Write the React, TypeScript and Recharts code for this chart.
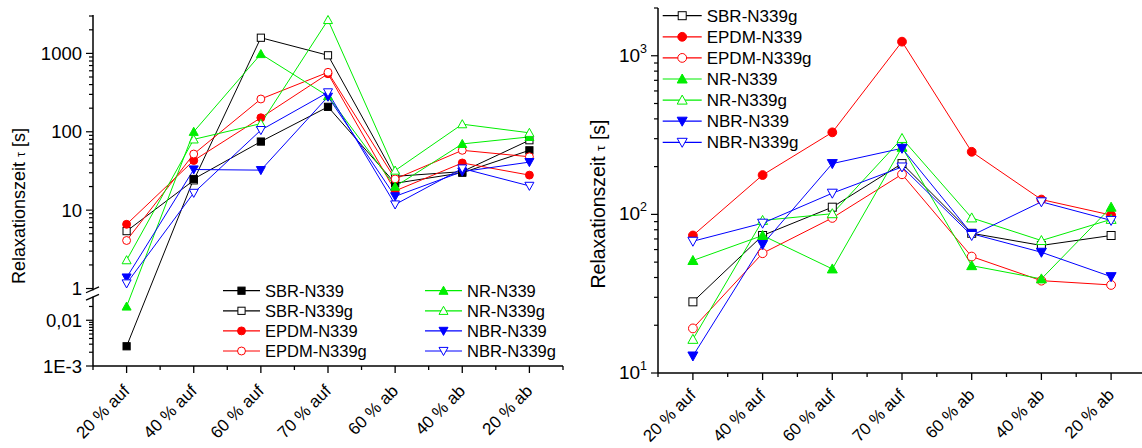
import React from 'react'
import { LineChart, Line, XAxis, YAxis } from 'recharts'

const cats = ['20 % auf', '40 % auf', '60 % auf', '70 % auf', '60 % ab', '40 % ab', '20 % ab']

// left panel, values in s (broken log axis)
const lSbr = [0.0027, 25, 75, 208, 22, 30, 58]
const lSbrG = [5.4, 24, 1585, 946, 27, 31, 78]
const lEpdm = [6.6, 43, 151, 550, 17.6, 40, 28]
const lEpdmG = [4.1, 52, 262, 574, 25, 58, 48]
const lNr = [0.02, 100, 982, 285, 20, 70, 86]
const lNrG = [2.3, 80, 127, 2670, 32, 125, 97]
const lNbr = [1.38, 33, 32.4, 280, 15, 31, 41]
const lNbrG = [1.16, 16.6, 105, 318, 11.8, 34, 20.4]

// right panel, values in s (log axis)
const rSbrG = [28.1, 73.6, 111, 209, 76, 63.7, 73.6]
const rEpdm = [73.6, 177, 329, 1227, 248, 124, 99]
const rEpdmG = [19.1, 56.9, 95, 179, 54.2, 38.2, 35.9]
const rNr = [51.2, 73.6, 45.3, 265, 47.5, 39.2, 111]
const rNrG = [16.3, 91.6, 101, 301, 95, 68.4, 93]
const rNbr = [12.8, 64.6, 209, 261, 75.5, 57.7, 40.5]
const rNbrG = [67.7, 88, 136, 199, 73.6, 120, 91.6]

const FONT = 'Liberation Sans, Arial, sans-serif'
const BLACK = '#000000', RED = '#ff0000', GREEN = '#00ee00', BLUE = '#0000ff'

type Shape = 'square' | 'circle' | 'up' | 'down'
interface Sty { name: string; color: string; shape: Shape; filled: boolean }

const ST: Record<string, Sty> = {
  sbr: { name: 'SBR-N339', color: BLACK, shape: 'square', filled: true },
  sbrG: { name: 'SBR-N339g', color: BLACK, shape: 'square', filled: false },
  epdm: { name: 'EPDM-N339', color: RED, shape: 'circle', filled: true },
  epdmG: { name: 'EPDM-N339g', color: RED, shape: 'circle', filled: false },
  nr: { name: 'NR-N339', color: GREEN, shape: 'up', filled: true },
  nrG: { name: 'NR-N339g', color: GREEN, shape: 'up', filled: false },
  nbr: { name: 'NBR-N339', color: BLUE, shape: 'down', filled: true },
  nbrG: { name: 'NBR-N339g', color: BLUE, shape: 'down', filled: false },
}

const leftSeries: [Sty, number[]][] = [
  [ST.sbrG, lSbrG], [ST.sbr, lSbr], [ST.epdm, lEpdm], [ST.epdmG, lEpdmG],
  [ST.nr, lNr], [ST.nrG, lNrG], [ST.nbr, lNbr], [ST.nbrG, lNbrG],
]
const rightSeries: [Sty, number[]][] = [
  [ST.sbrG, rSbrG], [ST.epdm, rEpdm], [ST.epdmG, rEpdmG],
  [ST.nr, rNr], [ST.nrG, rNrG], [ST.nbr, rNbr], [ST.nbrG, rNbrG],
]

// broken axis: upper part 1 unit per decade, lower part compressed
const LOW_OFF = -0.405
const LOW_K = 0.5836
const tf = (v: number) => (v >= 0.5 ? Math.log10(v) : LOW_OFF + (Math.log10(v) + 2) * LOW_K)

const leftData = cats.map((cat, i) => {
  const row: Record<string, any> = { cat }
  leftSeries.forEach(([s, vals]) => { row[s.name] = tf(vals[i]) })
  return row
})
const rightData = cats.map((cat, i) => {
  const row: Record<string, any> = { cat }
  rightSeries.forEach(([s, vals]) => { row[s.name] = vals[i] })
  return row
})

interface TickDef { label?: string; brk?: boolean }
const leftTicks = new Map<number, TickDef>()
;[[1, '1'], [10, '10'], [100, '100'], [1000, '1000'], [0.01, '0,01'], [0.001, '1E-3']].forEach(([v, l]) =>
  leftTicks.set(tf(v as number), { label: l as string }))
for (const d of [1, 10, 100, 1000]) for (let m = 2; m <= 9; m++) if (d * m <= 3000) leftTicks.set(tf(d * m), {})
for (let m = 2; m <= 9; m++) leftTicks.set(tf(0.001 * m), {})
leftTicks.set(tf(0.02), {})
const BRK = -0.064
leftTicks.set(BRK, { brk: true })

const rightTicks = new Map<number, TickDef>()
;[[10, '1'], [100, '2'], [1000, '3']].forEach(([v, l]) => rightTicks.set(v as number, { label: l as string }))
for (const d of [10, 100, 1000]) for (let m = 2; m <= 9; m++) if (d * m <= 2000) rightTicks.set(d * m, {})

function Marker({ cx, cy, s, r }: { cx: number; cy: number; s: Sty; r: number }) {
  if (cx == null || cy == null) return null
  const fill = s.filled ? s.color : '#fff'
  if (s.shape === 'square')
    return <rect x={cx - r} y={cy - r} width={2 * r} height={2 * r} fill={fill} stroke={s.color} strokeWidth={1} />
  if (s.shape === 'circle')
    return <circle cx={cx} cy={cy} r={r * 1.1} fill={fill} stroke={s.color} strokeWidth={1} />
  const h = r * 1.25
  const pts = s.shape === 'up'
    ? `${cx},${cy - h} ${cx - h},${cy + h * 0.8} ${cx + h},${cy + h * 0.8}`
    : `${cx},${cy + h} ${cx - h},${cy - h * 0.8} ${cx + h},${cy - h * 0.8}`
  return <polygon points={pts} fill={fill} stroke={s.color} strokeWidth={1} />
}

const XTick = (half: number, last: string, fs: number, dy: number) => (p: any) => {
  const { x, y, payload } = p
  return (
    <g>
      <line x1={x} x2={x} y1={y} y2={y + 7} stroke="#000" strokeWidth={1.3} />
      <line x1={x - half} x2={x - half} y1={y} y2={y + 4} stroke="#000" strokeWidth={1.3} />
      {payload.value === last && <line x1={x + half} x2={x + half} y1={y} y2={y + 4} stroke="#000" strokeWidth={1.3} />}
      <text x={x + 4} y={y + dy} textAnchor="end" transform={`rotate(-45 ${x + 4} ${y + dy})`}
        fontSize={fs} fontFamily={FONT} fill="#000">{payload.value}</text>
    </g>
  )
}

const LeftYTick = (p: any) => {
  const { x, y, payload } = p
  const d = leftTicks.get(payload.value)
  if (!d) return null
  if (d.brk) {
    return (
      <g>
        <rect x={x - 2} y={y - 3.2} width={4} height={6.4} fill="#fff" />
        <line x1={x - 7} y1={y - 0.8} x2={x + 6} y2={y - 6.6} stroke="#000" strokeWidth={1.3} />
        <line x1={x - 7} y1={y + 6.6} x2={x + 6} y2={y + 0.8} stroke="#000" strokeWidth={1.3} />
      </g>
    )
  }
  return (
    <g>
      <line x1={x} x2={x - (d.label ? 7 : 4)} y1={y} y2={y} stroke="#000" strokeWidth={1.2} />
      {d.label && <text x={x - 11} y={y} dy="0.36em" textAnchor="end" fontSize={18.5} fontFamily={FONT} fill="#000">{d.label}</text>}
    </g>
  )
}

const RightYTick = (p: any) => {
  const { x, y, payload } = p
  const d = rightTicks.get(payload.value)
  if (!d) return null
  return (
    <g>
      <line x1={x} x2={x - (d.label ? 7 : 4)} y1={y} y2={y} stroke="#000" strokeWidth={1.2} />
      {d.label && (
        <text x={x - 11} y={y + 6} textAnchor="end" fontSize={19} fontFamily={FONT} fill="#000">
          10<tspan fontSize={12.5} dy={-9}>{d.label}</tspan>
        </text>
      )}
    </g>
  )
}

function LegendItem({ x, y, s, r, len, fs }: { x: number; y: number; s: Sty; r: number; len: number; fs: number }) {
  return (
    <g>
      <line x1={x} x2={x + len} y1={y} y2={y} stroke={s.color} strokeWidth={1.2} />
      <Marker cx={x + len / 2} cy={y} s={s} r={r} />
      <text x={x + len + 5} y={y} dy="0.36em" fontSize={fs} fontFamily={FONT} fill="#000">{s.name}</text>
    </g>
  )
}

function YTitle({ x, y, size }: { x: number; y: number; size: number }) {
  return (
    <text x={x} y={y} transform={`rotate(-90 ${x} ${y})`} textAnchor="middle" fontSize={size} fontFamily={FONT} fill="#000">
      Relaxationszeit <tspan fontSize={size * 0.7}>τ</tspan> [s]
    </text>
  )
}

export default function App() {
  const leftLegend = [[ST.sbr, ST.sbrG, ST.epdm, ST.epdmG], [ST.nr, ST.nrG, ST.nbr, ST.nbrG]]
  const rightLegend = [ST.sbrG, ST.epdm, ST.epdmG, ST.nr, ST.nrG, ST.nbr, ST.nbrG]
  return (
    <div style={{ position: 'absolute', left: 0, top: 0, width: 1142, height: 448, overflow: 'hidden', background: '#fff' }}>
      <div style={{ position: 'absolute', left: 0, top: 0 }}>
        <LineChart width={580} height={448} data={leftData} margin={{ top: 15, right: 17, bottom: 0, left: 0 }}>
          <XAxis dataKey="cat" height={82} interval={0} padding={{ left: 33.6, right: 33.6 }}
            tickSize={0} tickMargin={0} tickLine={false} axisLine={{ stroke: '#000', strokeWidth: 1.5 }}
            tick={XTick(33.6, cats[cats.length - 1], 17, 26)} />
          <YAxis type="number" width={93} domain={[tf(0.001), 3.49]} allowDataOverflow
            ticks={[...leftTicks.keys()]} interval={0} tickSize={0} tickMargin={0} tickLine={false}
            axisLine={{ stroke: '#000', strokeWidth: 1.5 }} tick={LeftYTick} />
          {leftSeries.map(([s]) => (
            <Line key={s.name} dataKey={s.name} stroke={s.color} strokeWidth={1} isAnimationActive={false}
              activeDot={false} dot={(p: any) => <Marker key={`${s.name}-${p.index}`} cx={p.cx} cy={p.cy} s={s} r={3.6} />} />
          ))}
        </LineChart>
      </div>
      <div style={{ position: 'absolute', left: 580, top: 0 }}>
        <LineChart width={576} height={448} data={rightData} margin={{ top: 8, right: 10, bottom: 0, left: 0 }}>
          <XAxis dataKey="cat" height={75} interval={0} padding={{ left: 34.9, right: 34.9 }}
            tickSize={0} tickMargin={0} tickLine={false} axisLine={{ stroke: '#000', strokeWidth: 1.5 }}
            tick={XTick(34.9, cats[cats.length - 1], 16.8, 23)} />
          <YAxis type="number" scale="log" width={78} domain={[10, 2000]} allowDataOverflow
            ticks={[...rightTicks.keys()]} interval={0} tickSize={0} tickMargin={0} tickLine={false}
            axisLine={{ stroke: '#000', strokeWidth: 1.5 }} tick={RightYTick} />
          {rightSeries.map(([s]) => (
            <Line key={s.name} dataKey={s.name} stroke={s.color} strokeWidth={1} isAnimationActive={false}
              activeDot={false} dot={(p: any) => <Marker key={`${s.name}-${p.index}`} cx={p.cx} cy={p.cy} s={s} r={4} />} />
          ))}
        </LineChart>
      </div>
      <svg width={1142} height={448} style={{ position: 'absolute', left: 0, top: 0, pointerEvents: 'none' }}>
        <YTitle x={25} y={206} size={18} />
        <YTitle x={605} y={204} size={19.5} />
        {leftLegend.map((col, ci) => col.map((s, ri) => (
          <LegendItem key={s.name} x={ci === 0 ? 223 : 425} y={290.7 + ri * 20.1} s={s} r={3.6} len={37} fs={16.5} />
        )))}
        {rightLegend.map((s, i) => (
          <LegendItem key={s.name} x={662.7} y={15.7 + i * 21.1} s={s} r={4} len={39} fs={17} />
        ))}
      </svg>
    </div>
  )
}
